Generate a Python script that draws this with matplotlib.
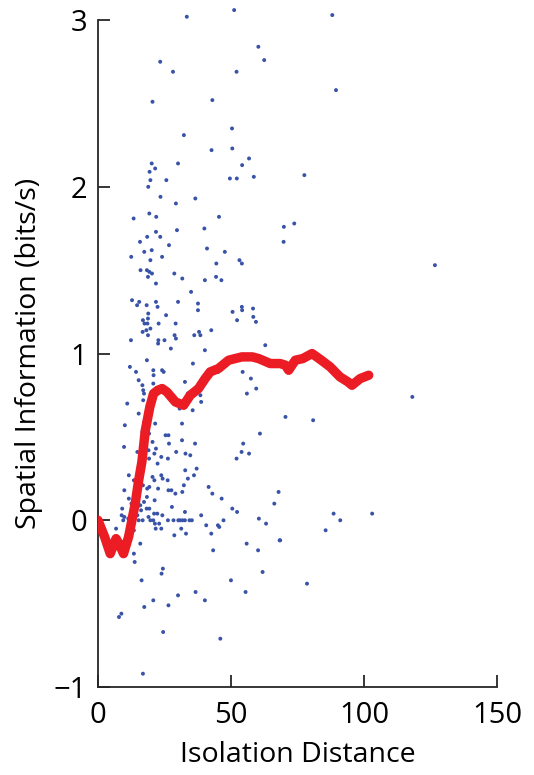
import numpy as np
import matplotlib
matplotlib.use('Agg')
import matplotlib.pyplot as plt

plt.rcParams['font.family'] = ['Open Sans', 'DejaVu Sans']
plt.rcParams['axes.unicode_minus'] = True

# scatter: isolation distance vs spatial information
iso_dist = [
    33.4, 51.2, 60.3, 62.5, 23.4, 28.2, 52.1, 20.5, 43.0, 50.4, 32.3, 42.7, 50.5, 56.8, 54.2, 20.2,
    21.5, 19.4, 30.1, 25.7, 19.7, 49.6, 52.2, 58.6, 18.9, 23.5, 29.3, 36.6, 13.4, 19.3, 21.9, 45.5,
    69.9, 73.8, 69.8, 21.8, 29.7, 40.0, 18.5, 23.4, 15.8, 26.7, 17.4, 20.2, 41.0, 47.7, 12.5, 24.1,
    88.1, 89.5, 77.6, 126.7,
    118.2, 70.5, 80.9, 88.6, 91.1, 103.1, 85.6, 68.5, 78.6,
    19.7, 16.0, 18.4, 19.3, 20.3, 18.8, 28.7, 31.7,
    21.8, 40.2, 35.0, 12.8, 15.5, 14.7, 18.3, 21.8, 22.4, 30.1, 37.6, 37.6, 18.9, 25.6, 18.8, 16.9,
    17.5, 18.6, 22.8, 29.2, 19.7, 18.2, 16.8, 18.8, 28.8, 29.3, 36.2, 38.0, 38.5, 12.4, 22.7, 22.6,
    25.0, 27.4, 40.2, 18.4, 35.7, 12.0, 14.3, 20.8, 24.1, 24.7, 20.9, 15.3, 20.8, 16.7, 32.7, 17.0,
    17.3, 38.5, 33.8,
    11.0, 17.0, 38.8, 30.7, 35.6, 15.3, 10.1, 17.4, 21.5, 31.6, 16.7, 19.2, 25.4, 26.5, 20.5, 26.7,
    31.6, 36.5, 9.8, 19.0, 21.8, 14.8, 21.2, 29.4, 32.9, 19.2, 23.8, 26.3, 34.7, 22.4, 32.8, 37.1,
    11.6, 23.8, 36.1, 20.5, 21.2, 24.3, 33.8, 13.5, 26.2, 14.5, 16.9, 32.3, 19.3, 18.5, 9.9, 22.6,
    26.5, 27.6, 31.7, 29.1, 41.6, 13.6, 18.4, 11.6, 21.3, 12.6, 17.3, 15.9, 14.9, 9.1, 18.3, 19.3,
    27.8, 16.2, 32.7, 38.8, 21.1, 22.3, 8.9, 9.9,
    14.8, 24.2, 19.0, 9.5, 11.4, 15.3, 16.8, 19.7, 20.8, 26.3, 28.4, 30.2, 30.9, 31.8, 32.7, 34.4,
    35.3, 21.4, 23.0, 21.7, 23.8, 31.3, 40.7, 6.8, 13.5, 33.1, 28.7, 15.9, 13.5, 13.8, 24.4, 23.9,
    16.4, 36.7, 30.1, 40.2, 20.8, 17.4, 26.5, 7.9, 8.8,
    46.4, 54.1, 54.2, 58.3, 50.6, 58.4, 59.4, 52.3, 42.6, 62.9, 45.2, 54.4, 57.5, 59.5, 56.0,
    60.9, 54.6, 54.0, 56.8, 52.1, 43.0, 46.5, 67.9, 66.3, 50.5, 52.3, 47.2, 60.5, 63.2, 45.1, 45.6,
    42.6, 43.3, 55.9, 60.2, 61.9, 50.0, 55.5, 24.5, 46.0, 16.9, 68.3,
    44.5, 53.2, 54.1, 44.4,
]
spatial_info = [
    3.02, 3.06, 2.84, 2.76, 2.75, 2.69, 2.69, 2.51, 2.52, 2.35, 2.31, 2.22, 2.23, 2.17, 2.13, 2.14,
    2.11, 2.09, 2.14, 2.04, 2.04, 2.05, 2.05, 2.06, 2.00, 1.94, 1.90, 1.93, 1.81, 1.84, 1.82, 1.82,
    1.76, 1.78, 1.67, 1.73, 1.74, 1.75, 1.70, 1.70, 1.67, 1.65, 1.61, 1.62, 1.63, 1.61, 1.58, 1.58,
    3.03, 2.58, 2.07, 1.53,
    0.74, 0.62, 0.60, 0.04, 0.00, 0.04, -0.06, -0.12, -0.38,
    1.56, 1.50, 1.50, 1.49, 1.48, 1.46, 1.48, 1.45,
    1.42, 1.44, 1.37, 1.32, 1.31, 1.29, 1.29, 1.31, 1.28, 1.31, 1.30, 1.26, 1.24, 1.23, 1.21, 1.20,
    1.18, 1.18, 1.18, 1.18, 1.15, 1.14, 1.13, 1.11, 1.11, 1.09, 1.11, 1.13, 1.11, 1.08, 1.08, 1.06,
    1.08, 1.03, 1.02, 0.96, 0.94, 0.92, 0.89, 0.90, 0.90, 0.89, 0.87, 0.84, 0.82, 0.81, 0.83, 0.78,
    0.76, 0.75, 0.76,
    0.70, 0.72, 0.71, 0.67, 0.66, 0.64, 0.57, 0.59, 0.58, 0.58, 0.53, 0.52, 0.51, 0.51, 0.47, 0.46,
    0.48, 0.46, 0.44, 0.42, 0.43, 0.41, 0.40, 0.41, 0.40, 0.37, 0.38, 0.37, 0.39, 0.34, 0.30, 0.31,
    0.27, 0.27, 0.27, 0.26, 0.24, 0.25, 0.25, 0.24, 0.24, 0.20, 0.21, 0.21, 0.20, 0.19, 0.18, 0.19,
    0.18, 0.18, 0.17, 0.16, 0.20, 0.16, 0.14, 0.13, 0.12, 0.10, 0.11, 0.09, 0.08, 0.07, 0.07, 0.07,
    0.08, 0.06, 0.05, 0.03, 0.04, 0.04, 0.03, 0.02,
    0.03, 0.03, 0.02, 0.00, 0.01, 0.00, 0.00, 0.00, 0.00, 0.00, 0.00, 0.00, 0.00, 0.00, 0.00, 0.00,
    0.00, -0.02, -0.02, -0.05, -0.05, -0.05, -0.03, -0.05, -0.06, -0.08, -0.09, -0.14, -0.20, -0.25, -0.29, -0.32,
    -0.36, -0.43, -0.45, -0.48, -0.48, -0.52, -0.51, -0.58, -0.56,
    1.44, 1.28, 1.26, 1.27, 1.25, 1.22, 1.19, 1.20, 1.14, 1.05, 0.89, 0.89, 0.85, 0.79, 0.76,
    0.52, 0.46, 0.41, 0.40, 0.37, 0.16, 0.13, 0.17, 0.10, 0.07, 0.05, 0.00, 0.01, -0.02, -0.03, -0.04,
    -0.08, -0.18, -0.14, -0.18, -0.31, -0.36, -0.43, -0.67, -0.71, -0.92, -0.12,
    1.54, 1.56, 1.54, 1.46,
]

# running average (red curve)
trend_x = [0, 2.5, 4.6, 6.8, 8.2, 9.6, 11.5, 14.0, 15.3, 16.5, 17.8, 19.5, 20.9, 22.5, 24.1, 25.9,
           27.5, 29.1, 32.2, 34.7, 37.8, 40.3, 42.2, 45.3, 49.1, 54.1, 58.0, 60.4, 64.8, 68.5, 70.5,
           71.7, 74.2, 77.0, 80.5, 84.0, 87.3, 91.0, 94.0, 95.5, 98.6, 101.8]
trend_y = [0.0, -0.1, -0.2, -0.11, -0.15, -0.2, -0.1, 0.10, 0.24, 0.35, 0.54, 0.68, 0.76, 0.78, 0.79, 0.77,
           0.74, 0.71, 0.69, 0.75, 0.79, 0.85, 0.89, 0.91, 0.96, 0.98, 0.98, 0.97, 0.94, 0.94, 0.93,
           0.90, 0.96, 0.97, 1.0, 0.96, 0.92, 0.86, 0.83, 0.81, 0.85, 0.87]

fig = plt.figure(figsize=(5.34, 7.75), dpi=100)
ax = fig.add_axes([0.1835, 0.1135, 0.747, 0.8606])

ax.scatter(iso_dist, spatial_info, s=8, color='#3953a8', edgecolors='none', clip_on=False, zorder=2)
ax.plot(trend_x, trend_y, color='#ec1c24', lw=6.8, solid_capstyle='round', solid_joinstyle='round', zorder=3)

## FORMATO EJES
ax.set_xlim(0, 150)
ax.set_ylim(-1, 3)
ax.set_xticks([0, 50, 100, 150])
ax.set_yticks([-1, 0, 1, 2, 3])
for s in ['top', 'right']:
    ax.spines[s].set_visible(False)
for s in ['left', 'bottom']:
    ax.spines[s].set_linewidth(1.3)
    ax.spines[s].set_color('#262626')
ax.tick_params(axis='both', direction='in', length=8.5, width=1.3, color='#262626', labelsize=21, labelcolor='black')
ax.tick_params(axis='x', pad=10)
ax.tick_params(axis='y', pad=8)

ax.set_xlabel('Isolation Distance', fontsize=20.5, labelpad=8)
ax.set_ylabel('Spatial Information (bits/s)', fontsize=20.5, labelpad=8)

plt.savefig('out.png', dpi=100)
